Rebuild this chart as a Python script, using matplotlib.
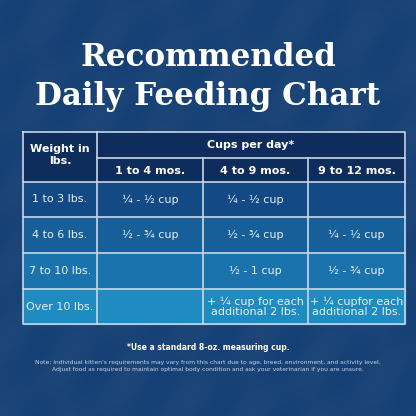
import numpy as np
import matplotlib.pyplot as plt
from matplotlib.patches import Rectangle

title_lines = ["Recommended", "Daily Feeding Chart"]
col_header = "Cups per day*"
age_groups = ["1 to 4 mos.", "4 to 9 mos.", "9 to 12 mos."]
weights = ["1 to 3 lbs.", "4 to 6 lbs.", "7 to 10 lbs.", "Over 10 lbs."]
cups = [
    ["¼ - ½ cup", "¼ - ½ cup", ""],
    ["½ - ¾ cup", "½ - ¾ cup", "¼ - ½ cup"],
    ["", "½ - 1 cup", "½ - ¾ cup"],
    ["", "+ ¼ cup for each\nadditional 2 lbs.", "+ ¼ cupfor each\nadditional 2 lbs."],
]
footnote = "*Use a standard 8-oz. measuring cup."
note = ("Note: Individual kitten's requirements may vary from this chart due to age, breed, environment, and activity level.\n"
        "Adjust food as required to maintain optimal body condition and ask your veterinarian if you are unsure.")

row_colors = ["#134a85", "#165f99", "#1a73ad", "#1f8cc1"]
header_color = "#0e2c5c"
line_color = "#c9d6e6"

fig = plt.figure(figsize=(4.16, 4.16), dpi=100)
ax = fig.add_axes([0, 0, 1, 1])
ax.set_xlim(0, 416)
ax.set_ylim(416, 0)
ax.axis("off")

# dark blue background with a faint texture
yy, xx = np.mgrid[0:104, 0:104]
tex = np.sin(xx * 0.35 + yy * 0.2) * np.cos(yy * 0.15 - xx * 0.05)
ax.add_patch(Rectangle((0, 0), 416, 416, color="#123a6f", zorder=0))
ax.imshow(tex, cmap="Blues", vmin=-3, vmax=3, extent=(0, 416, 416, 0), alpha=0.08, zorder=0.5)

for i, t in enumerate(title_lines):
    ax.text(208, 58 + i * 39, t, color="white", fontsize=22.3, fontweight="bold",
            family="DejaVu Serif", ha="center", va="center")

xs = [23, 97, 203, 308, 405]
ys_rows = [182, 217, 253, 289, 324]
top, mid = 132, 158

ax.add_patch(Rectangle((xs[0], top), xs[-1] - xs[0], ys_rows[0] - top, color=header_color, zorder=1))
for r in range(len(weights)):
    ax.add_patch(Rectangle((xs[0], ys_rows[r]), xs[-1] - xs[0], ys_rows[r + 1] - ys_rows[r],
                           color=row_colors[r], zorder=1))

lw = 1.2
ax.plot([xs[0], xs[-1], xs[-1], xs[0], xs[0]], [top, top, ys_rows[-1], ys_rows[-1], top], color=line_color, lw=lw, zorder=2)
ax.plot([xs[1], xs[-1]], [mid, mid], color=line_color, lw=lw, zorder=2)
for y in ys_rows[:-1]:
    ax.plot([xs[0], xs[-1]], [y, y], color=line_color, lw=lw, zorder=2)
ax.plot([xs[1], xs[1]], [top, ys_rows[-1]], color=line_color, lw=lw, zorder=2)
for x in xs[2:4]:
    ax.plot([x, x], [mid, ys_rows[-1]], color=line_color, lw=lw, zorder=2)

bold = dict(color="white", fontsize=8, fontweight="bold", ha="center", va="center", zorder=3)
reg = dict(color="#e8eef6", fontsize=8, ha="center", va="center", zorder=3, linespacing=1.0)
ax.text((xs[0] + xs[1]) / 2, 155, "Weight in\nlbs.", linespacing=1.3, **bold)
ax.text((xs[1] + xs[-1]) / 2, 145, col_header, **bold)
for j, a in enumerate(age_groups):
    ax.text((xs[j + 1] + xs[j + 2]) / 2, 171, a, **bold)
for r, w in enumerate(weights):
    yc = (ys_rows[r] + ys_rows[r + 1]) / 2
    ax.text((xs[0] + xs[1]) / 2, yc, w, **reg)
    for j, c in enumerate(cups[r]):
        ax.text((xs[j + 1] + xs[j + 2]) / 2, yc, c, **reg)

ax.text(208, 348, footnote, color="white", fontsize=5.5, fontweight="bold", ha="center", va="center")
ax.text(208, 366, note, color="#c8d4e4", fontsize=4.3, ha="center", va="center", linespacing=1.5)

fig.savefig("out.png", dpi=100)
